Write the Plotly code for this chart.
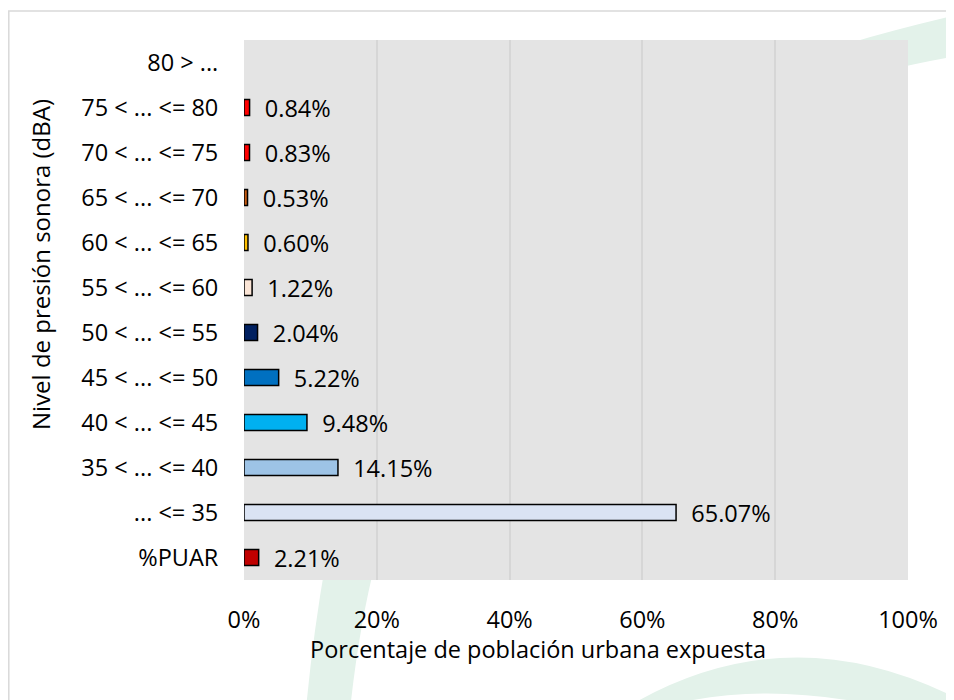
import plotly.graph_objects as go

# ---- data (bottom to top as drawn) ----
categories = ["%PUAR", "... <= 35", "35 < ... <= 40", "40 < ... <= 45", "45 < ... <= 50",
              "50 < ... <= 55", "55 < ... <= 60", "60 < ... <= 65", "65 < ... <= 70",
              "70 < ... <= 75", "75 < ... <= 80", "80 > ..."]
values = [2.21, 65.07, 14.15, 9.48, 5.22, 2.04, 1.22, 0.60, 0.53, 0.83, 0.84, 0.0]
bar_colors = ["#C00000", "#DAE3F3", "#9DC3E6", "#00B0F0", "#0070C0", "#002060",
              "#FBE5D6", "#FFC000", "#C55A11", "#FF0000", "#FF0000", "#F8CBAD"]
x_ticks = [0, 20, 40, 60, 80, 100]
x_tick_labels = ["0%", "20%", "40%", "60%", "80%", "100%"]
x_title = "Porcentaje de población urbana expuesta"
y_title = "Nivel de presión sonora (dBA)"

labels = [("\u00a0\u00a0" + f"{v:.2f}%") if v > 0 else "" for v in values]
line_w = [1.5 if v > 0 else 0 for v in values]

FONT = "Open Sans"
FS = 23.5
OFF = 8  # page body margin
W, H = 954 - OFF, 700 - OFF
# plot area in page pixels: x 244..908, y 40..580
ML, MT = 244 - OFF, 40 - OFF
MR = W - (908 - OFF)
MB = H - (580 - OFF)
PW, PH = W - ML - MR, H - MT - MB


def px(x, y):
    # page pixel -> paper coords
    return (x - OFF - ML) / PW, (H - MB - (y - OFF)) / PH


def path(cmds):
    out = []
    for c in cmds:
        if isinstance(c, str):
            out.append(c)
        else:
            X, Y = px(*c)
            out.append(f"{X:.4f},{Y:.4f}")
    return " ".join(out)


wm = "#E3F2EA"
shapes = [
    # outer frame
    dict(type="rect", xref="paper", yref="paper",
         x0=px(8.8, 0)[0], x1=px(990, 0)[0], y0=px(0, 740)[1], y1=px(0, 11)[1],
         line=dict(color="#D9D9D9", width=1.5), fillcolor="rgba(0,0,0,0)", layer="below"),
    # watermark pieces
    dict(type="path", xref="paper", yref="paper", layer="below", line=dict(width=0), fillcolor=wm,
         path=path(["M", (850, 43), "Q", (900, 28), (970, 12), "L", (970, 54), "Q", (930, 60), (880, 72), "Z"])),
    dict(type="path", xref="paper", yref="paper", layer="below", line=dict(width=0), fillcolor=wm,
         path=path(["M", (326, 560), "L", (376, 560), "Q", (358, 630), (349, 720), "L", (305, 720), "Q", (312, 640), (326, 560), "Z"])),
    dict(type="path", xref="paper", yref="paper", layer="below", line=dict(width=0), fillcolor=wm,
         path=path(["M", (636, 702), "Q", (800, 610), (975, 708), "L", (975, 730), "L", (905, 712),
                    "Q", (782, 681), (683, 702), "Z"])),
    # plot area background drawn over the watermark
    dict(type="rect", xref="paper", yref="paper", x0=0, x1=1, y0=0, y1=1,
         fillcolor="#E4E4E4", line=dict(width=0), layer="below"),
]

tx, ty = px(538, 649)
yx, yy = px(40, 265)
annotations = [
    dict(text=x_title, xref="paper", yref="paper", x=tx, y=ty, xanchor="center", yanchor="middle",
         showarrow=False, font=dict(family=FONT, size=FS, color="#000000")),
    dict(text=y_title, xref="paper", yref="paper", x=yx, y=yy, xanchor="center", yanchor="middle",
         textangle=-90, showarrow=False, font=dict(family=FONT, size=FS + 0.5, color="#000000")),
]

fig = go.Figure(go.Bar(
    y=categories, x=values, orientation="h",
    marker=dict(color=bar_colors, line=dict(color="#000000", width=line_w)),
    text=labels, textposition="outside", cliponaxis=False, constraintext="none",
    textfont=dict(family=FONT, size=FS, color="#000000"),
    hoverinfo="x+y",
))

fig.update_layout(
    width=W, height=H,
    margin=dict(l=ML, r=MR, t=MT, b=MB, autoexpand=False),
    paper_bgcolor="#FFFFFF", plot_bgcolor="rgba(0,0,0,0)",
    bargap=0.64, showlegend=False,
    font=dict(family=FONT, size=FS, color="#000000"),
    shapes=shapes, annotations=annotations,
    xaxis=dict(range=[0, 100], tickvals=x_ticks, ticktext=x_tick_labels,
               showgrid=True, gridcolor="#D6D6D6", gridwidth=1.5, zeroline=False,
               showline=False, ticks="outside", ticklen=19, tickcolor="rgba(0,0,0,0)",
               tickfont=dict(family=FONT, size=FS, color="#000000"),
               fixedrange=True, automargin=False),
    yaxis=dict(categoryorder="array", categoryarray=categories, showgrid=False, zeroline=False,
               showline=False, ticks="outside", ticklen=20, tickcolor="rgba(0,0,0,0)",
               tickfont=dict(family=FONT, size=FS, color="#000000"),
               fixedrange=True, automargin=False),
)

fig.write_html("out.html")
